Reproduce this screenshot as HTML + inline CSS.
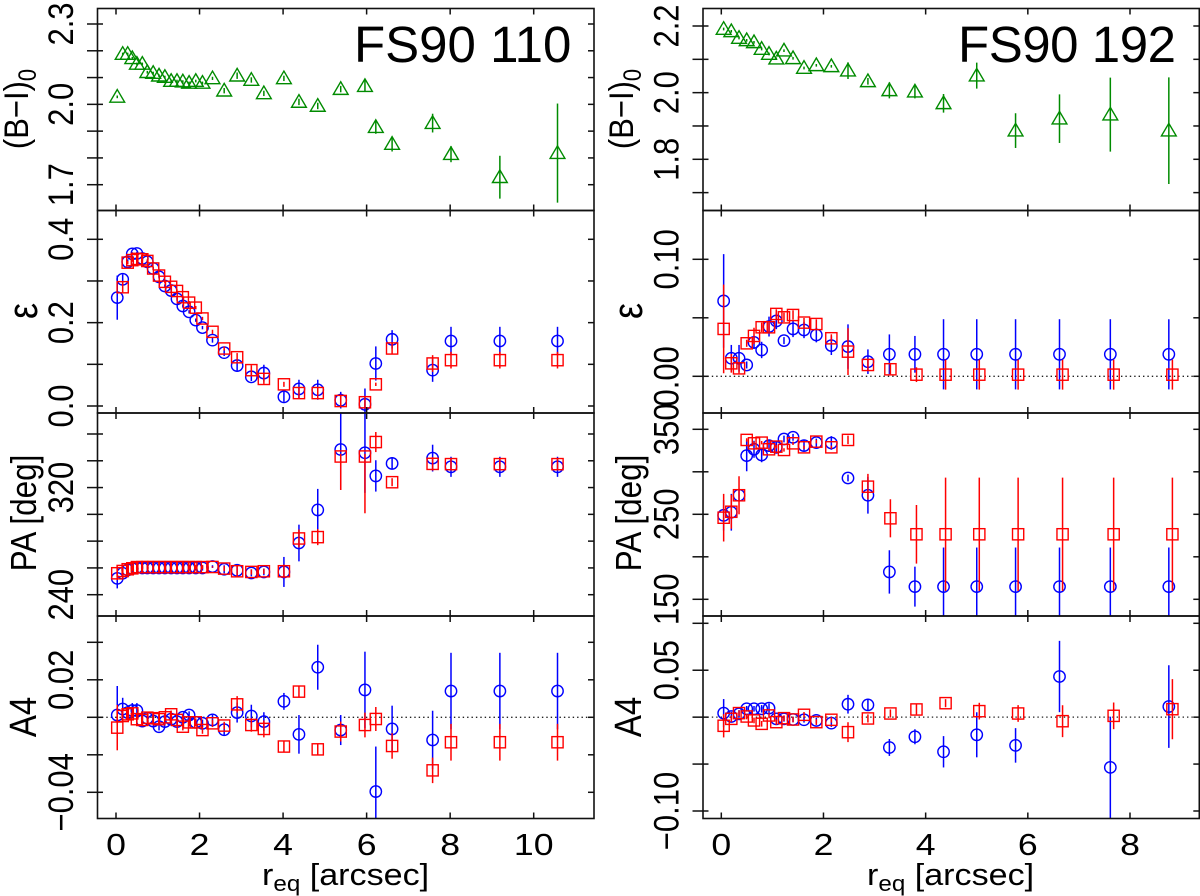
<!DOCTYPE html>
<html lang="en">
<head>
<meta charset="utf-8">
<title>FS90 110 and FS90 192 radial profiles</title>
<style>
html,body{margin:0;padding:0;background:#fff;}
svg{display:block;}
text{font-family:"Liberation Sans",Arial,sans-serif;fill:#000;}
</style>
</head>
<body>
<svg id="chart" xmlns="http://www.w3.org/2000/svg" width="1200" height="896" viewBox="0 0 1200 896">
  <rect x="0" y="0" width="1200" height="896" fill="#fff"/>
  <defs id="clips"></defs>
  <g id="plots"></g>

  <text x="354" y="62" font-size="51">FS90 110</text>
  <text x="958" y="62" font-size="51" textLength="218">FS90 192</text>

  <text transform="translate(28,109) scale(1.12,1) rotate(-90)" font-size="31" text-anchor="middle">(B−I)<tspan font-size="22" dy="7">0</tspan></text>
  <text transform="translate(37,311) scale(1.15,1) rotate(-90)" font-size="36" text-anchor="middle">ε</text>
  <text transform="translate(36,513) scale(1.15,1) rotate(-90)" font-size="31.5" text-anchor="middle">PA [deg]</text>
  <text transform="translate(36,717) scale(1.15,1) rotate(-90)" font-size="33" text-anchor="middle">A4</text>

  <text transform="translate(633,109) scale(1.12,1) rotate(-90)" font-size="31" text-anchor="middle">(B−I)<tspan font-size="22" dy="7">0</tspan></text>
  <text transform="translate(642,311) scale(1.15,1) rotate(-90)" font-size="36" text-anchor="middle">ε</text>
  <text transform="translate(641,513) scale(1.15,1) rotate(-90)" font-size="31.5" text-anchor="middle">PA [deg]</text>
  <text transform="translate(641,717) scale(1.15,1) rotate(-90)" font-size="33" text-anchor="middle">A4</text>

  <text transform="translate(262,885) scale(1.1,1)" font-size="31">r<tspan font-size="22" dy="6">eq</tspan><tspan dy="-6"> [arcsec]</tspan></text>
  <text transform="translate(867,885) scale(1.1,1)" font-size="31">r<tspan font-size="22" dy="6">eq</tspan><tspan dy="-6"> [arcsec]</tspan></text>
</svg>

<script>
// ---------- Shared tick values and labels ----------
const xTicksLeft = [0, 2, 4, 6, 8, 10];
const xTicksRight = [0, 2, 4, 6, 8];
const colorTicksLeft = [1.7, 1.8, 1.9, 2.0, 2.1, 2.2, 2.3];
const colorLabelsLeft = ["1.7", "2.0", "2.3"];
const ellTicksLeft = [0, 0.1, 0.2, 0.3, 0.4];
const ellLabelsLeft = ["0.0", "0.2", "0.4"];
const paTicksLeft = [240, 260, 280, 300, 320, 340, 360];
const paLabelsLeft = ["240", "320"];
const a4TicksLeft = [-0.04, -0.02, 0, 0.02, 0.04];
const a4LabelsLeft = ["−0.04", "0.02"];
const colorTicksRight = [1.7, 1.8, 1.9, 2.0, 2.1, 2.2];
const colorLabelsRight = ["1.8", "2.0", "2.2"];
const ellTicksRight = [0, 0.05, 0.10];
const ellLabelsRight = ["0.00", "0.10"];
const paTicksRight = [150, 200, 250, 300, 350];
const paLabelsRight = ["150", "250", "350"];
const a4TicksRight = [-0.10, -0.05, 0, 0.05, 0.10];
const a4LabelsRight = ["−0.10", "0.05"];

// ---------- FS90 110 (left column) ----------
const radiusLeft = [0.03,0.16,0.28,0.39,0.50,0.63,0.75,0.89,1.03,1.17,1.32,1.46,1.60,1.75,1.91,2.07,2.31,2.59,2.90,3.24,3.54,4.02,4.38,4.83,5.38,5.96,6.22,6.61,7.58,8.02,9.19,10.57];

const colorLeft = [2.028,2.188,2.188,2.172,2.151,2.151,2.120,2.117,2.107,2.102,2.087,2.087,2.085,2.080,2.087,2.080,2.097,2.051,2.107,2.091,2.041,2.097,2.009,1.994,2.057,2.068,1.915,1.852,1.930,1.814,1.728,1.818];
const colorLeftErr = [.005,.005,.005,.005,.005,.005,.005,.005,.005,.005,.005,.005,.005,.005,.005,.005,.006,.01,.012,.01,.01,.01,.012,.012,.012,.022,.025,.028,.035,.03,.08,.185];

const ellBlueLeft = [.260,.304,.346,.365,.366,.354,.346,.330,.310,.288,.277,.257,.240,.226,.206,.188,.158,.128,.097,.070,.079,.022,.041,.039,.014,.004,.102,.160,.086,.156,.156,.156];
const ellBlueLeftErr = [.053,.012,.006,.004,.004,.004,.004,.004,.004,.004,.004,.004,.004,.004,.004,.004,.006,.008,.012,.010,.020,.012,.022,.024,.020,.038,.041,.022,.028,.034,.034,.034];
const ellRedLeft = [null,.285,.344,.350,.353,.352,.348,.330,.313,.298,.286,.276,.261,.248,.236,.210,.178,.138,.117,.086,.065,.052,.031,.031,.012,.009,.052,.138,.102,.110,.110,.110];
const ellRedLeftErr = [null,.012,.004,.004,.004,.004,.004,.004,.004,.004,.004,.004,.004,.004,.004,.004,.005,.005,.010,.012,.012,.006,.012,.012,.014,.012,.004,.012,.020,.020,.020,.020];

const paBlueLeft = [252.2,256,258.5,259.5,260.2,260,260,260,260,260,260,260,260,260,260,260,261,259,258.2,256.2,257,257,278.6,303.3,348.4,346,328.7,338,342,335.5,335.5,335.5];
const paBlueLeftErr = [7.5,5,3,2,2,2,2,2,2,2,2,2,2,2,2,2,1,3,4,2.5,2.5,11.2,13.7,15.7,30,30,11.7,4.5,10,7.5,7.5,7.5];
const paRedLeft = [256,257.7,259,259.7,260.6,260.6,260.6,260.6,260.6,260.6,260.6,260.6,260.6,260.6,260.6,260.6,260.7,259.5,257.5,257,257.5,257.5,282,283,343.2,343.2,354,324,337.7,337.5,337.5,337.5];
const paRedLeftErr = [5,3,2,2,1.5,1.5,1.5,1.5,1.5,1.5,1.5,1.5,1.5,1.5,1.5,1.5,.5,2,4,2,2,5,6.7,6,25,42.4,7.5,3,5,4,4,4];
const paRedLeftErrUp = [5,3,2,2,1.5,1.5,1.5,1.5,1.5,1.5,1.5,1.5,1.5,1.5,1.5,1.5,.5,2,4,2,2,5,6.7,6,2,2,7.5,3,5,4,4,4];

const a4BlueLeft = [.0012,.0044,.0025,.0036,.0036,-.002,-.0005,-.002,-.005,-.0023,-.001,-.0023,0,.0012,-.0027,-.0032,-.0014,-.0066,.0025,.0007,-.0023,.0085,-.0091,.0267,-.0068,.0146,-.0396,-.0062,-.0121,.014,.014,.014];
const a4BlueLeftErr = [.0155,.006,.004,.004,.004,.002,.002,.002,.002,.002,.002,.002,.002,.002,.002,.002,.0027,.0027,.0053,.006,.005,.0045,.0103,.012,.008,.0204,.024,.0124,.0156,.0204,.0204,.0204];
const a4RedLeft = [-.0055,.0007,.0016,.0021,-.001,-.0014,-.0002,-.0005,-.001,0,.0016,-.0014,-.005,-.0027,-.0027,-.0068,-.0032,-.0044,.0069,-.0041,-.0062,-.0156,.0137,-.0171,-.0076,-.0041,-.0009,-.0153,-.0283,-.0133,-.0133,-.0133];
const a4RedLeftErr = [.0121,.003,.002,.002,.002,.002,.002,.002,.002,.002,.002,.002,.002,.002,.002,.002,.002,.002,.0044,.0036,.0045,.003,.003,.003,.0053,.0066,.0064,.0068,.0068,.0098,.0098,.0098];

// ---------- FS90 192 (right column) ----------
const radiusBlueRight = [.046,.196,.347,.497,.64,.79,.934,1.077,1.227,1.404,1.619,1.86,2.154,2.48,2.87,3.29,3.79,4.35,5.0,5.76,6.62,7.615,8.76];
const radiusRedRight = [.046,.196,.347,.497,.64,.79,.934,1.077,1.227,1.404,1.619,1.86,2.154,2.48,2.87,3.31,3.82,4.39,5.05,5.81,6.68,7.68,8.83];

const colorRight = [2.191,2.184,2.164,2.157,2.151,2.131,2.116,2.102,2.126,2.103,2.074,2.082,2.079,2.066,2.034,2.007,2.003,1.968,2.051,1.886,1.922,1.934,1.886];
const colorRightErr = [.004,.004,.004,.004,.004,.004,.004,.004,.004,.004,.004,.004,.004,.025,.01,.024,.02,.028,.039,.052,.073,.111,.16];

const ellBlueRight = [.0644,.0154,.0154,.0097,.029,.0225,.0425,.0473,.0305,.0405,.0396,.0353,.0262,.0254,.0125,.0188,.0188,.0188,.0188,.0188,.0188,.0188,.0188];
const ellBlueRightErr = [.04,.0114,.0114,.003,.0057,.007,.0085,.007,.003,.007,.007,.0063,.008,.019,.0105,.017,.0157,.03,.03,.03,.03,.03,.03];
const ellRedRight = [.0405,.0111,.0068,.0282,.0345,.0419,.0419,.0533,.0504,.0524,.0459,.0447,.0325,.0211,.0097,.006,.0014,.0014,.0014,.0014,.0014,.0014,.0014];
const ellRedRightErr = [.0379,.008,.0043,.003,.007,.004,.004,.004,.004,.004,.004,.004,.0034,.02,.0043,.0043,.0063,.0128,.0128,.0128,.0128,.0128,.0128];

const paBlueRight = [248.8,252.4,272.4,319,326.5,319.8,330.8,328.8,338.6,340.6,330.8,334.3,333.9,292.7,272.4,182.2,164.9,164.9,164.9,164.9,164.9,164.9,164.9];
const paBlueRightErr = [18,21.6,6,18.4,10,8.6,7,6,4,4,6,4.7,8,4,21.6,25.5,23.5,46,46,46,46,46,46];
const paRedRight = [246,253,272.4,337.5,333.5,334.3,326.5,329.6,325.7,333.5,328.8,335.5,328.8,337.5,282.5,245.3,226.5,226.5,226.5,226.5,226.5,226.5,226.5];
const paRedRightErr = [28,20,22.4,2,2,2,2,2,2,2,2,2,2,5,15,22.4,34.5,66.7,66.7,66.7,66.7,66.7,66.7];

const a4BlueRight = [.0043,.0007,.0035,.0089,.0089,.0089,.0096,-.0018,-.0018,-.0025,-.0028,-.0035,-.0064,.0138,.0131,-.0323,-.0209,-.0369,-.0188,-.0301,.0433,-.0535,.0113];
const a4BlueRightErr = [.015,.005,.004,.003,.003,.004,.005,.003,.003,.003,.003,.003,.004,.01,.006,.009,.008,.0167,.024,.0184,.038,.054,.044];
const a4RedRight = [-.0092,-.0018,.0043,.0007,-.0035,-.0071,.0018,-.0053,-.0011,-.0025,.0025,-.0053,-.0028,-.016,-.0014,.0039,.0082,.0149,.0064,.0039,-.0043,.0014,.0085];
const a4RedRightErr = [.0124,.0035,.003,.003,.003,.003,.003,.003,.003,.003,.003,.003,.003,.0106,.0043,.0043,.0053,.0043,.0089,.0089,.017,.0142,.032];

// ---------- Drawing ----------
const NS = "http://www.w3.org/2000/svg";
const plots = document.getElementById("plots");
const clips = document.getElementById("clips");
const BLUE = "#0000ff", RED = "#ff0000", GREEN = "#008b00";
let clipCount = 0;

function svgEl(tag, parent) {
  const el = document.createElementNS(NS, tag);
  parent.appendChild(el);
  return el;
}
function linear(d0, d1, p0, p1) {
  return v => p0 + (v - d0) * (p1 - p0) / (d1 - d0);
}
function line(parent, x1, y1, x2, y2, stroke, width) {
  const el = svgEl("line", parent);
  el.setAttribute("x1", x1);
  el.setAttribute("y1", y1);
  el.setAttribute("x2", x2);
  el.setAttribute("y2", y2);
  el.setAttribute("stroke", stroke);
  el.setAttribute("stroke-width", width);
  return el;
}
function parseLabel(s) {
  return parseFloat(s.replace("−", "-"));
}

function drawSeries(parent, kind, color, xs, vals, errs, errsUp, sx, sy, label) {
  const g = svgEl("g", parent);
  
  
  vals.forEach((v, i) => {
    if (v === null) return;
    const px = sx(xs[i]);
    const py = sy(v);
    const bar = line(g, px, sy(v - errs[i]), px, sy(v + errsUp[i]), color, 1.5);
    
    
    let mark;
    if (kind === "circle") {
      mark = svgEl("circle", g);
      mark.setAttribute("cx", px);
      mark.setAttribute("cy", py);
      mark.setAttribute("r", 5.7);
    } else if (kind === "square") {
      mark = svgEl("rect", g);
      mark.setAttribute("x", px - 5.6);
      mark.setAttribute("y", py - 5.6);
      mark.setAttribute("width", 11.2);
      mark.setAttribute("height", 11.2);
    } else {
      mark = svgEl("polygon", g);
      mark.setAttribute("points", px + "," + (py - 7.3) + " " + (px + 7.4) + "," + (py + 5.3) + " " + (px - 7.4) + "," + (py + 5.3));
    }
    mark.setAttribute("fill", "none");
    mark.setAttribute("stroke", color);
    mark.setAttribute("stroke-width", 1.4);
    
    
  });
}

function drawPanel(cfg) {
  const g = svgEl("g", plots);
  
  
  const id = "clip" + (clipCount++);
  const cp = svgEl("clipPath", clips);
  cp.setAttribute("id", id);
  const cr = svgEl("rect", cp);
  cr.setAttribute("x", cfg.left);
  cr.setAttribute("y", cfg.top);
  cr.setAttribute("width", cfg.right - cfg.left);
  cr.setAttribute("height", cfg.bottom - cfg.top);

  const data = svgEl("g", g);
  data.setAttribute("clip-path", "url(#" + id + ")");
  
  

  if (cfg.zeroLine) {
    const z = line(data, cfg.left, cfg.sy(0), cfg.right, cfg.sy(0), "#222", 1.3);
    z.setAttribute("stroke-dasharray", "1.4 3");
    
    
  }
  cfg.series.forEach(s => {
    drawSeries(data, s.kind, s.color, s.xs, s.vals, s.errs, s.errsUp || s.errs, cfg.sx, cfg.sy, s.label);
  });

  // frame
  const frame = svgEl("rect", g);
  frame.setAttribute("x", cfg.left);
  frame.setAttribute("y", cfg.top);
  frame.setAttribute("width", cfg.right - cfg.left);
  frame.setAttribute("height", cfg.bottom - cfg.top);
  frame.setAttribute("fill", "none");
  frame.setAttribute("stroke", "#111");
  frame.setAttribute("stroke-width", 1.6);
  
  

  // x ticks, inward on top and bottom
  cfg.xTicks.forEach(t => {
    const px = cfg.sx(t);
    const a = line(g, px, cfg.top, px, cfg.top + 6, "#111", 1.5);
    
    
    const b = line(g, px, cfg.bottom - 6, px, cfg.bottom, "#111", 1.5);
    
    
  });

  // y ticks, across the left edge and inward on the right edge
  cfg.yTicks.forEach(t => {
    const py = cfg.sy(t);
    const a = line(g, cfg.left - 10.5, py, cfg.left + 5.5, py, "#111", 1.5);
    
    
    const b = line(g, cfg.right - 6, py, cfg.right, py, "#111", 1.5);
    
    
  });

  // y tick labels
  cfg.yLabels.forEach(s => {
    const t = svgEl("text", g);
    t.setAttribute("transform", "translate(" + cfg.labelX + "," + cfg.sy(parseLabel(s)) + ") scale(1.15,1) rotate(-90)");
    t.setAttribute("font-size", 31);
    t.setAttribute("text-anchor", "middle");
    
    
    t.textContent = s;
  });

  // x tick labels on the bottom panel
  if (cfg.showX) {
    cfg.xTicks.forEach(v => {
      const t = svgEl("text", g);
      t.setAttribute("transform", "translate(" + cfg.sx(v) + ",855) scale(1.15,1)");
      t.setAttribute("font-size", 31);
      t.setAttribute("text-anchor", "middle");
      
      
      t.textContent = String(v);
    });
  }
}

const sxLeft = linear(0, 10, 116, 533.7);
const sxRight = linear(0, 8, 721.3, 1130);

const L = { left: 97.5, right: 594, labelX: 73, sx: sxLeft, xTicks: xTicksLeft };
const R = { left: 703, right: 1199.3, labelX: 678.5, sx: sxRight, xTicks: xTicksRight };

drawPanel(Object.assign({}, L, {
  name: "left-color", top: 8.5, bottom: 210.5,
  sy: linear(1.7, 2.3, 184.7, 24), yTicks: colorTicksLeft, yLabels: colorLabelsLeft,
  series: [{ kind: "triangle", color: GREEN, xs: radiusLeft, vals: colorLeft, errs: colorLeftErr, label: "color-green" }]
}));
drawPanel(Object.assign({}, L, {
  name: "left-ellipticity", top: 210.5, bottom: 413,
  sy: linear(0, 0.4, 406, 239.3), yTicks: ellTicksLeft, yLabels: ellLabelsLeft,
  series: [
    { kind: "circle", color: BLUE, xs: radiusLeft, vals: ellBlueLeft, errs: ellBlueLeftErr, label: "ellipticity-blue" },
    { kind: "square", color: RED, xs: radiusLeft, vals: ellRedLeft, errs: ellRedLeftErr, label: "ellipticity-red" }
  ]
}));
drawPanel(Object.assign({}, L, {
  name: "left-pa", top: 413, bottom: 616,
  sy: linear(240, 360, 594.7, 434), yTicks: paTicksLeft, yLabels: paLabelsLeft,
  series: [
    { kind: "circle", color: BLUE, xs: radiusLeft, vals: paBlueLeft, errs: paBlueLeftErr, label: "pa-blue" },
    { kind: "square", color: RED, xs: radiusLeft, vals: paRedLeft, errs: paRedLeftErr, errsUp: paRedLeftErrUp, label: "pa-red" }
  ]
}));
drawPanel(Object.assign({}, L, {
  name: "left-a4", top: 616, bottom: 818.5, showX: true, zeroLine: true,
  sy: linear(-0.04, 0.04, 792.3, 642.3), yTicks: a4TicksLeft, yLabels: a4LabelsLeft,
  series: [
    { kind: "circle", color: BLUE, xs: radiusLeft, vals: a4BlueLeft, errs: a4BlueLeftErr, label: "a4-blue" },
    { kind: "square", color: RED, xs: radiusLeft, vals: a4RedLeft, errs: a4RedLeftErr, label: "a4-red" }
  ]
}));

drawPanel(Object.assign({}, R, {
  name: "right-color", top: 8.5, bottom: 210.5,
  sy: linear(1.8, 2.2, 159.3, 26), yTicks: colorTicksRight, yLabels: colorLabelsRight,
  series: [{ kind: "triangle", color: GREEN, xs: radiusBlueRight, vals: colorRight, errs: colorRightErr, label: "color-green" }]
}));
drawPanel(Object.assign({}, R, {
  name: "right-ellipticity", top: 210.5, bottom: 413, zeroLine: true,
  sy: linear(0, 0.10, 376.3, 259.3), yTicks: ellTicksRight, yLabels: ellLabelsRight,
  series: [
    { kind: "circle", color: BLUE, xs: radiusBlueRight, vals: ellBlueRight, errs: ellBlueRightErr, label: "ellipticity-blue" },
    { kind: "square", color: RED, xs: radiusRedRight, vals: ellRedRight, errs: ellRedRightErr, label: "ellipticity-red" }
  ]
}));
drawPanel(Object.assign({}, R, {
  name: "right-pa", top: 413, bottom: 616,
  sy: linear(150, 350, 599.3, 429.3), yTicks: paTicksRight, yLabels: paLabelsRight,
  series: [
    { kind: "circle", color: BLUE, xs: radiusBlueRight, vals: paBlueRight, errs: paBlueRightErr, label: "pa-blue" },
    { kind: "square", color: RED, xs: radiusRedRight, vals: paRedRight, errs: paRedRightErr, label: "pa-red" }
  ]
}));
drawPanel(Object.assign({}, R, {
  name: "right-a4", top: 616, bottom: 818.5, showX: true, zeroLine: true,
  sy: linear(-0.10, 0.10, 811, 623.3), yTicks: a4TicksRight, yLabels: a4LabelsRight,
  series: [
    { kind: "circle", color: BLUE, xs: radiusBlueRight, vals: a4BlueRight, errs: a4BlueRightErr, label: "a4-blue" },
    { kind: "square", color: RED, xs: radiusRedRight, vals: a4RedRight, errs: a4RedRightErr, label: "a4-red" }
  ]
}));
</script>
</body>
</html>
